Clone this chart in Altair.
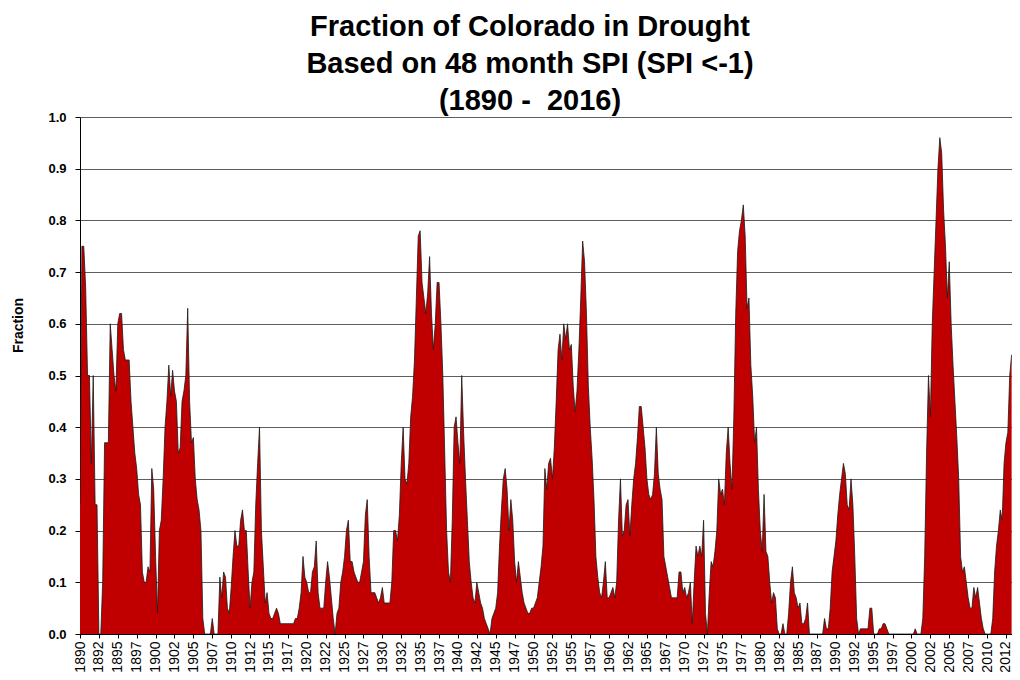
import altair as alt
import pandas as pd

# Quarterly readings of the fraction of Colorado in drought (4 per year, from 1890.00)
v1890s = [0.25, 0.75, 0.75, 0.67,  0.5, 0.5, 0.33, 0.5,  0.25, 0.25, 0.0, 0.0,
          0.1, 0.37, 0.37, 0.37,  0.6, 0.55, 0.5, 0.47,  0.6, 0.62, 0.62, 0.55,
          0.53, 0.53, 0.53, 0.45,  0.4, 0.35, 0.32, 0.27,  0.25, 0.12, 0.1, 0.1,
          0.13, 0.12, 0.32, 0.28]
v1900s = [0.15, 0.04, 0.2, 0.22,  0.3, 0.4, 0.45, 0.52,  0.46, 0.51, 0.47, 0.45,
          0.35, 0.36, 0.45, 0.47,  0.5, 0.63, 0.45, 0.37,  0.38, 0.3, 0.26, 0.24,
          0.2, 0.03, 0.0, 0.0,  0.0, 0.0, 0.03, 0.0,  0.0, 0.0, 0.11, 0.07,
          0.12, 0.11, 0.05, 0.04]
v1910s = [0.09, 0.15, 0.2, 0.17,  0.17, 0.22, 0.24, 0.2,  0.2, 0.12, 0.05, 0.1,
          0.12, 0.25, 0.33, 0.4,  0.2, 0.13, 0.06, 0.08,  0.04, 0.03, 0.03, 0.04,
          0.05, 0.04, 0.02, 0.02,  0.02, 0.02, 0.02, 0.02,  0.02, 0.02, 0.03, 0.03,
          0.05, 0.08, 0.15, 0.11]
v1920s = [0.1, 0.08, 0.08, 0.12,  0.13, 0.18, 0.08, 0.05,  0.05, 0.05, 0.1, 0.14,
          0.11, 0.07, 0.03, 0.0,  0.04, 0.05, 0.1, 0.12,  0.15, 0.2, 0.22, 0.14,
          0.14, 0.12, 0.11, 0.1,  0.1, 0.12, 0.14, 0.23,  0.26, 0.15, 0.08, 0.08,
          0.08, 0.07, 0.06, 0.07]
v1930s = [0.09, 0.06, 0.06, 0.06,  0.06, 0.1, 0.2, 0.2,  0.18, 0.23, 0.33, 0.4,
          0.3, 0.29, 0.33, 0.42,  0.46, 0.53, 0.65, 0.77,  0.78, 0.68, 0.65, 0.62,
          0.66, 0.73, 0.62, 0.55,  0.6, 0.68, 0.68, 0.6,  0.5, 0.35, 0.2, 0.12,
          0.1, 0.22, 0.4, 0.42]
v1940s = [0.37, 0.33, 0.5, 0.39,  0.3, 0.22, 0.14, 0.1,  0.07, 0.06, 0.1, 0.08,
          0.06, 0.05, 0.03, 0.02,  0.01, 0.0, 0.03, 0.04,  0.05, 0.08, 0.17, 0.24,
          0.3, 0.32, 0.28, 0.2,  0.26, 0.22, 0.14, 0.1,  0.14, 0.11, 0.08, 0.06,
          0.05, 0.04, 0.04, 0.05]
v1950s = [0.05, 0.06, 0.07, 0.1,  0.13, 0.17, 0.32, 0.28,  0.33, 0.34, 0.3, 0.36,
          0.45, 0.55, 0.58, 0.53,  0.6, 0.57, 0.6, 0.55,  0.56, 0.48, 0.43, 0.47,
          0.55, 0.65, 0.76, 0.72,  0.62, 0.48, 0.4, 0.34,  0.26, 0.15, 0.11, 0.08,
          0.07, 0.1, 0.14, 0.07]
v1960s = [0.07, 0.08, 0.09, 0.07,  0.1, 0.22, 0.3, 0.19,  0.2, 0.25, 0.26, 0.19,
          0.25, 0.3, 0.33, 0.38,  0.44, 0.44, 0.4, 0.36,  0.3, 0.27, 0.26, 0.27,
          0.31, 0.4, 0.31, 0.28,  0.26, 0.15, 0.13, 0.11,  0.09, 0.07, 0.07, 0.07,
          0.07, 0.12, 0.12, 0.08]
v1970s = [0.09, 0.07, 0.08, 0.1,  0.02, 0.1, 0.17, 0.15,  0.17, 0.15, 0.22, 0.04,
          0.0, 0.08, 0.14, 0.13,  0.16, 0.2, 0.3, 0.27,  0.28, 0.25, 0.35, 0.4,
          0.33, 0.28, 0.42, 0.62,  0.74, 0.78, 0.8, 0.83,  0.77, 0.63, 0.65, 0.52,
          0.46, 0.37, 0.4, 0.28]
v1980s = [0.2, 0.16, 0.27, 0.16,  0.15, 0.1, 0.06, 0.08,  0.07, 0.01, 0.0, 0.0,
          0.02, 0.0, 0.0, 0.04,  0.1, 0.13, 0.08, 0.07,  0.05, 0.06, 0.02, 0.02,
          0.03, 0.06, 0.0, 0.0,  0.0, 0.0, 0.0, 0.0,  0.0, 0.0, 0.03, 0.01,
          0.01, 0.05, 0.12, 0.15]
v1990s = [0.18, 0.23, 0.27, 0.3,  0.33, 0.31, 0.25, 0.24,  0.3, 0.25, 0.15, 0.03,
          0.0, 0.01, 0.01, 0.01,  0.01, 0.01, 0.05, 0.05,  0.0, 0.0, 0.0, 0.01,
          0.01, 0.02, 0.02, 0.01,  0.0, 0.0, 0.0, 0.0,  0.0, 0.0, 0.0, 0.0,
          0.0, 0.0, 0.0, 0.0]
v2000s = [0.0, 0.0, 0.01, 0.0,  0.0, 0.0, 0.03, 0.15,  0.35, 0.5, 0.42, 0.6,
          0.7, 0.8, 0.9, 0.96,  0.93, 0.82, 0.75, 0.65,  0.72, 0.6, 0.52, 0.45,
          0.38, 0.3, 0.15, 0.12,  0.13, 0.1, 0.07, 0.05,  0.05, 0.09, 0.07, 0.09,
          0.06, 0.03, 0.01, 0.0]
v2010s = [0.0, 0.0, 0.0, 0.03,  0.12, 0.17, 0.2, 0.24,  0.22, 0.33, 0.37, 0.39,
          0.5, 0.54]

values = v1890s + v1900s + v1910s + v1920s + v1930s + v1940s + v1950s + v1960s + v1970s + v1980s + v1990s + v2000s + v2010s
years = [1890 + 0.25 * i for i in range(len(values))]

tick_years = [1890 + 2.5 * k for k in range(50)]
y_ticks = [0.0, 0.1, 0.2, 0.3, 0.4, 0.5, 0.6, 0.7, 0.8, 0.9, 1.0]

title_lines = ["Fraction of Colorado in Drought", "Based on 48 month SPI (SPI <-1)", "(1890 -\u00a0 2016)"]

df = pd.DataFrame({"year": years, "fraction": values})

FONT = "Liberation Sans"

chart = alt.Chart(df).mark_area(
    color="#C00000",
    opacity=1,
    fillOpacity=1,
    clip=True,
    line={"color": "#1a1a1a", "strokeWidth": 0.8},
).encode(
    x=alt.X(
        "year:Q",
        scale=alt.Scale(domain=[1890, 2013.3], nice=False, zero=False),
        axis=alt.Axis(
            title=None,
            values=tick_years,
            labelExpr="toString(floor(datum.value))",
            labelAngle=270,
            labelFontSize=14,
            labelFont=FONT,
            labelColor="#000000",
            labelPadding=3,
            tickSize=4,
            tickColor="#000000",
            domainColor="#000000",
            grid=False,
            labelOverlap=False,
            labelFlush=False,
        ),
    ),
    y=alt.Y(
        "fraction:Q",
        scale=alt.Scale(domain=[0, 1], nice=False),
        axis=alt.Axis(
            title="Fraction",
            titleFont=FONT,
            titleFontSize=14,
            titleFontWeight="bold",
            titleColor="#000000",
            titleAngle=270,
            titleX=-62,
            titleY=208,
            titleAlign="center",
            titleBaseline="middle",
            values=y_ticks,
            format=".1f",
            labelFont=FONT,
            labelFontSize=13,
            labelFontWeight="bold",
            labelColor="#000000",
            labelPadding=9,
            tickSize=5,
            tickColor="#000000",
            domainColor="#000000",
            grid=True,
            gridColor="#5e5e5e",
            gridWidth=1,
        ),
    ),
).properties(
    width=932,
    height=517,
    autosize=alt.AutoSizeParams(type="none"),
    padding={"left": 72, "top": 109, "right": 0, "bottom": 42},
    title=alt.TitleParams(
        text=title_lines,
        font=FONT,
        fontSize=29,
        fontWeight="bold",
        color="#000000",
        lineHeight=37,
        anchor="middle",
        baseline="bottom",
        offset=4,
        dx=-16,
        dy=38,
    ),
).configure_view(strokeWidth=0)

chart.save("out.html", embed_options={"renderer": "svg", "actions": False})
